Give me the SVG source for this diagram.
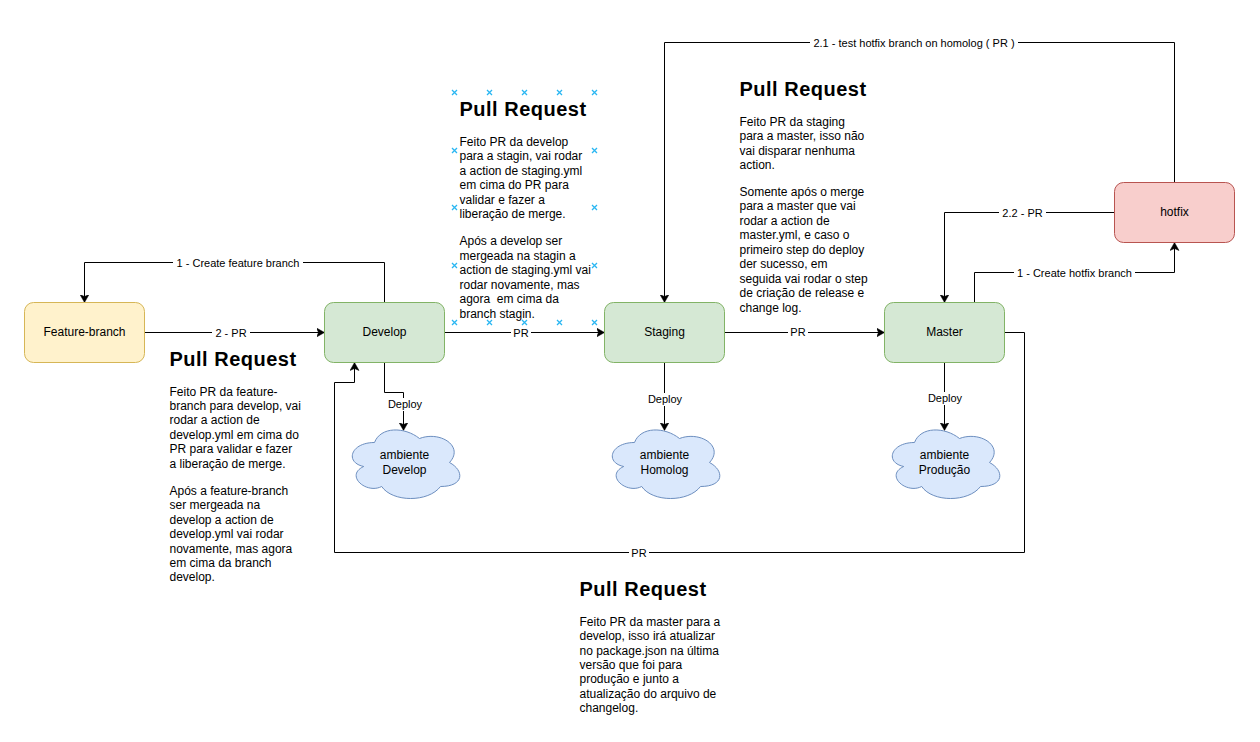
<svg xmlns="http://www.w3.org/2000/svg" width="1260" height="742" viewBox="0 0 1260 742">
<style>
text{font-family:"Liberation Sans",Arial,sans-serif;fill:#000}
.n{font-size:12px;text-anchor:middle}
.l{font-size:11px;text-anchor:middle}
.h{font-size:20px;font-weight:bold;letter-spacing:.5px}
.b{font-size:12px}
.c{fill:none;stroke:#000;stroke-width:1;marker-end:url(#a)}
.bg{fill:#fff}
.g{fill:#d5e8d4;stroke:#82b366}
.cl{fill:#dae8fc;stroke:#6c8ebf;stroke-width:1}
.x{fill:none;stroke:#29b6f2;stroke-width:1.3}
</style>
<defs>
<marker id="a" markerUnits="userSpaceOnUse" markerWidth="9" markerHeight="10" refX="7.5" refY="4.5" orient="auto"><path d="M0 0L8 4.5L0 9L2 4.5Z" fill="#000" stroke="#000" stroke-width="0.5"/></marker>
<path id="cloud" d="M30 20C6 20 0 40 19.2 44C0 52.8 21.6 72 37.2 64C48 80 84 80 96 64C120 64 120 48 105 40C120 24 96 8 75 16C60 4 36 4 30 20Z"/>
<path id="xm" d="M-2.500 -2.500L2.500 2.500M-2.500 2.500L2.500 -2.500"/>
</defs>
<g id="connectors">
<path class="c" d="M384.500 302.500V262.500H84.500V302"/>
<path class="c" d="M144.500 332.500H324"/>
<path class="c" d="M444.500 332.500H604"/>
<path class="c" d="M724.500 332.500H884"/>
<path class="c" d="M1004.500 332.500H1024.500V552.500H334.500V382.500H354.500V363"/>
<path class="c" d="M384.500 362.500V392.500H403.500V430"/>
<path class="c" d="M664.500 362.500V430"/>
<path class="c" d="M944.500 362.500V430"/>
<path class="c" d="M1174.500 182.500V42.500H664.500V302"/>
<path class="c" d="M1114.500 212.500H944.500V302"/>
<path class="c" d="M974.500 302.500V272.500H1174.500V243"/>
<rect class="bg" x="173" y="256" width="130" height="13"/>
<text class="l" x="238" y="266.500">1 - Create feature branch</text>
<rect class="bg" x="212" y="326" width="38" height="13"/>
<text class="l" x="231" y="336.500">2 - PR</text>
<rect class="bg" x="511" y="326" width="20" height="13"/>
<text class="l" x="521" y="336.500">PR</text>
<rect class="bg" x="788" y="326" width="20" height="13"/>
<text class="l" x="798" y="335.500">PR</text>
<rect class="bg" x="629" y="546" width="20" height="13"/>
<text class="l" x="639" y="556.500">PR</text>
<rect class="bg" x="387" y="398" width="37" height="13"/>
<text class="l" x="405" y="408">Deploy</text>
<rect class="bg" x="647" y="393" width="37" height="13"/>
<text class="l" x="665" y="403">Deploy</text>
<rect class="bg" x="927" y="392" width="37" height="13"/>
<text class="l" x="945" y="402">Deploy</text>
<rect class="bg" x="810" y="36" width="208" height="13"/>
<text class="l" x="914" y="46.500">2.1 - test hotfix branch on homolog ( PR )</text>
<rect class="bg" x="999" y="206" width="47" height="13"/>
<text class="l" x="1022.500" y="216.500">2.2 - PR</text>
<rect class="bg" x="1014" y="266" width="121" height="13"/>
<text class="l" x="1074.500" y="276.500">1 - Create hotfix branch</text>
</g>
<g id="feature-branch"><rect x="24.500" y="302.500" width="120" height="60" rx="9" fill="#fff2cc" stroke="#d6b656"/><text class="n" x="84.500" y="336">Feature-branch</text></g>
<g id="develop"><rect class="g" x="324.500" y="302.500" width="120" height="60" rx="9"/><text class="n" x="384.500" y="336">Develop</text></g>
<g id="staging"><rect class="g" x="604.500" y="302.500" width="120" height="60" rx="9"/><text class="n" x="664.500" y="336">Staging</text></g>
<g id="master"><rect class="g" x="884.500" y="302.500" width="120" height="60" rx="9"/><text class="n" x="944.500" y="336">Master</text></g>
<g id="hotfix"><rect x="1114.500" y="182.500" width="120" height="60" rx="9" fill="#f8cecc" stroke="#b85450"/><text class="n" x="1174.500" y="216">hotfix</text></g>
<g id="cloud-develop"><use href="#cloud" class="cl" x="344.500" y="422.500"/><text class="n" x="404.500" y="459">ambiente</text><text class="n" x="404.500" y="474">Develop</text></g>
<g id="cloud-homolog"><use href="#cloud" class="cl" x="604.500" y="422.500"/><text class="n" x="664.500" y="459">ambiente</text><text class="n" x="664.500" y="474">Homolog</text></g>
<g id="cloud-producao"><use href="#cloud" class="cl" x="884.500" y="422.500"/><text class="n" x="944.500" y="459">ambiente</text><text class="n" x="944.500" y="474">Produção</text></g>
<g id="text-pr-feature">
<text class="h" x="169.500" y="366">Pull Request</text>
<text class="b" x="169.500"><tspan x="169.500" y="396">Feito PR da feature-</tspan><tspan x="169.500" y="410">branch para develop, vai</tspan><tspan x="169.500" y="424">rodar a action de</tspan><tspan x="169.500" y="439">develop.yml em cima do</tspan><tspan x="169.500" y="453">PR para validar e fazer</tspan><tspan x="169.500" y="468">a liberação de merge.</tspan><tspan x="169.500" y="495">Após a feature-branch</tspan><tspan x="169.500" y="509">ser mergeada na</tspan><tspan x="169.500" y="524">develop a action de</tspan><tspan x="169.500" y="538">develop.yml vai rodar</tspan><tspan x="169.500" y="553">novamente, mas agora</tspan><tspan x="169.500" y="567">em cima da branch</tspan><tspan x="169.500" y="581">develop.</tspan></text>
</g>
<g id="text-pr-develop">
<text class="h" x="459.500" y="116">Pull Request</text>
<text class="b"><tspan x="459.500" y="146">Feito PR da develop</tspan><tspan x="459.500" y="160">para a stagin, vai rodar</tspan><tspan x="459.500" y="175">a action de staging.yml</tspan><tspan x="459.500" y="189">em cima do PR para</tspan><tspan x="459.500" y="204">validar e fazer a</tspan><tspan x="459.500" y="218">liberação de merge.</tspan><tspan x="459.500" y="245">Após a develop ser</tspan><tspan x="459.500" y="260">mergeada na stagin a</tspan><tspan x="459.500" y="274">action de staging.yml vai</tspan><tspan x="459.500" y="289">rodar novamente, mas</tspan><tspan x="459.500" y="303" xml:space="preserve">agora  em cima da</tspan><tspan x="459.500" y="318">branch stagin.</tspan></text>
</g>
<g id="text-pr-staging">
<text class="h" x="739.500" y="96">Pull Request</text>
<text class="b"><tspan x="739.500" y="126">Feito PR da staging</tspan><tspan x="739.500" y="140">para a master, isso não</tspan><tspan x="739.500" y="155">vai disparar nenhuma</tspan><tspan x="739.500" y="169">action.</tspan><tspan x="739.500" y="196">Somente após o merge</tspan><tspan x="739.500" y="210">para a master que vai</tspan><tspan x="739.500" y="225">rodar a action de</tspan><tspan x="739.500" y="239">master.yml, e caso o</tspan><tspan x="739.500" y="254">primeiro step do deploy</tspan><tspan x="739.500" y="268">der sucesso, em</tspan><tspan x="739.500" y="283">seguida vai rodar o step</tspan><tspan x="739.500" y="297">de criação de release e</tspan><tspan x="739.500" y="312">change log.</tspan></text>
</g>
<g id="text-pr-master">
<text class="h" x="579.500" y="596">Pull Request</text>
<text class="b"><tspan x="579.500" y="626">Feito PR da master para a</tspan><tspan x="579.500" y="640">develop, isso irá atualizar</tspan><tspan x="579.500" y="655">no package.json na última</tspan><tspan x="579.500" y="669">versão que foi para</tspan><tspan x="579.500" y="683">produção e junto a</tspan><tspan x="579.500" y="698">atualização do arquivo de</tspan><tspan x="579.500" y="712">changelog.</tspan></text>
</g>
<g id="selection-handles" class="x">
<use href="#xm" x="454.500" y="92.500"/><use href="#xm" x="489.500" y="92.500"/><use href="#xm" x="524.500" y="92.500"/><use href="#xm" x="559.500" y="92.500"/><use href="#xm" x="594.500" y="92.500"/>
<use href="#xm" x="454.500" y="150.500"/><use href="#xm" x="594.500" y="150.500"/>
<use href="#xm" x="454.500" y="207.500"/><use href="#xm" x="594.500" y="207.500"/>
<use href="#xm" x="454.500" y="265.500"/><use href="#xm" x="594.500" y="265.500"/>
<use href="#xm" x="454.500" y="322.500"/><use href="#xm" x="489.500" y="322.500"/><use href="#xm" x="524.500" y="322.500"/><use href="#xm" x="559.500" y="322.500"/><use href="#xm" x="594.500" y="322.500"/>
</g>
</svg>
